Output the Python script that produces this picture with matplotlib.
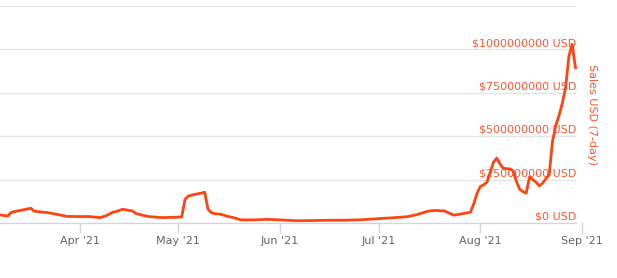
import matplotlib
matplotlib.use("Agg")
import matplotlib.pyplot as plt
import matplotlib.dates as mdates
import pandas as pd

# 7-day sales in millions of USD
dates = [
    "2021-03-06", "2021-03-08", "2021-03-10", "2021-03-11", "2021-03-12", "2021-03-14",
    "2021-03-17", "2021-03-18", "2021-03-20", "2021-03-22", "2021-03-25", "2021-03-28",
    "2021-04-01", "2021-04-04", "2021-04-07", "2021-04-09", "2021-04-10", "2021-04-11",
    "2021-04-12", "2021-04-14", "2021-04-16", "2021-04-17", "2021-04-18", "2021-04-20",
    "2021-04-22", "2021-04-26", "2021-04-30", "2021-05-02", "2021-05-03", "2021-05-04",
    "2021-05-06", "2021-05-08", "2021-05-09", "2021-05-10", "2021-05-11", "2021-05-12",
    "2021-05-14", "2021-05-16", "2021-05-18", "2021-05-20", "2021-05-24", "2021-05-28",
    "2021-06-01", "2021-06-06", "2021-06-11", "2021-06-16", "2021-06-21", "2021-06-26",
    "2021-07-01", "2021-07-06", "2021-07-10", "2021-07-13", "2021-07-16", "2021-07-18",
    "2021-07-21", "2021-07-24", "2021-07-27", "2021-07-29", "2021-07-30", "2021-07-31",
    "2021-08-01", "2021-08-02", "2021-08-03", "2021-08-04", "2021-08-05", "2021-08-06",
    "2021-08-07", "2021-08-08", "2021-08-09", "2021-08-10", "2021-08-11", "2021-08-12",
    "2021-08-13", "2021-08-14", "2021-08-15", "2021-08-16", "2021-08-17", "2021-08-18",
    "2021-08-19", "2021-08-20", "2021-08-21", "2021-08-22", "2021-08-23", "2021-08-24",
    "2021-08-25", "2021-08-26", "2021-08-27", "2021-08-28", "2021-08-29", "2021-08-30",
]
sales_m = [
    47, 46, 40, 60, 66, 73,
    85, 68, 64, 60, 50, 38,
    37, 37, 31, 42, 52, 62,
    66, 79, 72, 70, 55, 45,
    37, 31, 33, 35, 135, 155,
    165, 172, 178, 80, 60, 54,
    50, 38, 30, 18, 18, 21,
    18, 13, 14, 16, 16, 19,
    25, 31, 37, 50, 68, 72,
    70, 45, 55, 62, 110, 170,
    210, 220, 235, 290, 350, 374,
    340, 316, 313, 312, 300, 240,
    195, 180, 172, 265, 250, 235,
    214, 230, 255, 278, 470, 560,
    620, 690, 780, 960, 1030, 895,
]
y_ticks = [0, 250e6, 500e6, 750e6, 1000e6]
y_tick_labels = ["$0 USD", "$250000000 USD", "$500000000 USD", "$750000000 USD", "$1000000000 USD"]
x_ticks = ["2021-04-01", "2021-05-01", "2021-06-01", "2021-07-01", "2021-08-01"]
x_tick_labels = ["Apr '21", "May '21", "Jun '21", "Jul '21", "Aug '21"]
extra_tick = "2021-09-01"
extra_tick_label = "Sep '21"

LINE = "#ff4412"
LABEL = "#ff5533"
GRID = "#e6e6e6"
AXIS = "#ccd6eb"

W, H = 617, 278
fig = plt.figure(figsize=(W / 100, H / 100), dpi=100)
ax = fig.add_axes([0, 1 - 223 / H, 576 / W, (223 - 6) / H])

x = pd.to_datetime(dates)
y = [v * 1e6 for v in sales_m]
ax.plot(x, y, color=LINE, lw=2, solid_joinstyle="round", zorder=3, clip_on=False)

apr1 = pd.Timestamp("2021-04-01")
px_per_day = 502 / 153
ax.set_xlim(apr1 - pd.Timedelta(days=80 / px_per_day), apr1 + pd.Timedelta(days=(576 - 80) / px_per_day))
ax.set_ylim(0, 1250e6)

for v in y_ticks[1:] + [1250e6]:
    ax.axhline(v, color=GRID, lw=1, zorder=1)

for s in ["top", "right", "left"]:
    ax.spines[s].set_visible(False)
ax.spines["bottom"].set_color(AXIS)
ax.spines["bottom"].set_linewidth(1)

ax.set_yticks([])
ax.set_xticks(pd.to_datetime(x_ticks))
ax.set_xticklabels(x_tick_labels)
ax.tick_params(axis="x", length=7, width=1, color=AXIS, labelcolor="#666666", labelsize=8, pad=2)

# Sep tick sits just outside the plot area
xt = ax.get_xaxis_transform()
sep = mdates.date2num(pd.Timestamp(extra_tick))
ax.plot([sep, sep], [0, -10 / 217], transform=xt, color=AXIS, lw=1, clip_on=False)
ax.text(sep, -13.5 / 217, extra_tick_label, transform=xt, ha="center", va="top",
        color="#666666", fontsize=8, clip_on=False)

yt = ax.get_yaxis_transform()
for v, lab in zip(y_ticks, y_tick_labels):
    ax.annotate(lab, xy=(1, v), xycoords=yt, xytext=(0, 4.6), textcoords="offset points",
                ha="right", va="center", color=LABEL, fontsize=8, zorder=2)

fig.text(592 / W, 1 - 115 / H, "Sales USD (7-day)", rotation=270, ha="center", va="center",
         color=LABEL, fontsize=8)

fig.savefig("out.png", dpi=100)
